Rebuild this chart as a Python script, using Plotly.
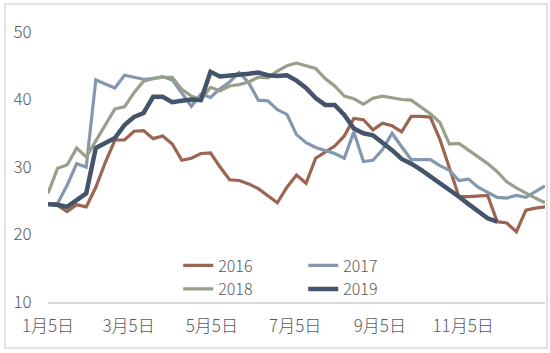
import plotly.graph_objects as go
import pandas as pd

# weekly categories (common calendar year)
dates = pd.date_range("2019-01-05", periods=53, freq="7D").strftime("%Y-%m-%d").tolist()

tick_vals = ["2019-01-05", "2019-03-05", "2019-05-05", "2019-07-05", "2019-09-05", "2019-11-05"]
tick_text = ["1月5日", "3月5日", "5月5日", "7月5日", "9月5日", "11月5日"]

y_2016 = [24.5, 24.3, 23.4, 24.4, 24.1, 27.0, 30.7, 34.0, 34.0, 35.3, 35.4, 34.2, 34.6, 33.4,
          31.0, 31.3, 32.0, 32.1, 30.0, 28.1, 28.0, 27.5, 26.8, 25.7, 24.7, 27.0, 28.8, 27.6,
          31.3, 32.2, 33.1, 34.6, 37.2, 37.0, 35.5, 36.5, 36.1, 35.2, 37.5, 37.5, 37.4, 34.1,
          29.7, 25.6, 25.6, 25.7, 25.8, 21.9, 21.7, 20.4, 23.6, 23.9, 24.1]
y_2017 = [24.5, 24.6, 27.3, 30.5, 30.0, 42.9, 42.3, 41.7, 43.6, 43.3, 43.0, 43.1, 43.4, 42.9,
          41.0, 39.0, 40.8, 40.3, 41.6, 42.6, 44.0, 42.5, 39.9, 39.8, 38.5, 37.8, 34.8, 33.6,
          32.9, 32.4, 32.0, 31.3, 35.2, 30.8, 31.0, 32.6, 35.0, 33.0, 31.1, 31.1, 31.1, 30.2,
          29.5, 28.0, 28.2, 27.0, 26.2, 25.5, 25.4, 25.8, 25.5, 26.3, 27.2]
y_2018 = [26.1, 29.8, 30.3, 32.8, 31.5, 33.8, 36.3, 38.6, 38.9, 41.0, 42.7, 43.1, 43.3, 43.3,
          41.5, 40.5, 40.0, 41.8, 41.3, 42.0, 42.2, 42.6, 43.3, 43.2, 44.2, 45.0, 45.4, 45.0,
          44.6, 43.1, 42.0, 40.5, 40.1, 39.3, 40.2, 40.5, 40.2, 40.0, 39.9, 38.9, 37.9, 36.6,
          33.4, 33.5, 32.5, 31.5, 30.5, 29.3, 27.8, 26.9, 26.1, 25.4, 24.7]
y_2019 = [24.5, 24.4, 24.1, 25.1, 26.1, 32.8, 33.6, 34.3, 36.2, 37.4, 38.0, 40.4, 40.4, 39.6,
          39.8, 40.0, 39.9, 44.1, 43.4, 43.5, 43.6, 43.8, 44.0, 43.6, 43.5, 43.6, 42.8, 41.7,
          40.2, 39.2, 39.2, 37.7, 35.7, 35.0, 34.7, 33.7, 32.5, 31.2, 30.5, 29.6, 28.6, 27.6,
          26.8, 25.6, 24.5, 23.4, 22.4, 21.9]

series = [
    ("2016", y_2016, "#9b6552", 3.2, "legend"),
    ("2017", y_2017, "#8497b0", 3.2, "legend"),
    ("2018", y_2018, "#98a08a", 3.2, "legend2"),
    ("2019", y_2019, "#44546a", 4.5, "legend2"),
]

fig = go.Figure()
for name, ys, color, width, leg in series:
    fig.add_trace(go.Scatter(
        x=dates[:len(ys)], y=ys, name=name, mode="lines",
        line=dict(color=color, width=width), legend=leg,
    ))

font_family = "Noto Sans CJK SC, Noto Sans, sans-serif"
txt_color = "#595959"

leg_common = dict(
    orientation="h", xanchor="left", yanchor="middle",
    font=dict(family=font_family, size=16, color=txt_color, weight=300),
    bgcolor="rgba(0,0,0,0)", entrywidthmode="pixels", entrywidth=80,
    itemwidth=30, tracegroupgap=0,
)

fig.update_layout(
    width=550, height=353,
    margin=dict(l=48, r=5, t=32, b=51),
    paper_bgcolor="white", plot_bgcolor="white",
    showlegend=True,
    legend=dict(x=0.262, y=0.135, **leg_common),
    legend2=dict(x=0.262, y=0.048, **leg_common),
    xaxis=dict(
        type="date",
        range=[dates[0], dates[-1]],
        tickvals=tick_vals, ticktext=tick_text,
        showgrid=False, zeroline=False,
        showline=True, linecolor="#d9d9d9", linewidth=1.5,
        ticks="outside", ticklen=8, tickcolor="rgba(0,0,0,0)",
        tickfont=dict(family=font_family, size=17, color=txt_color, weight=300),
    ),
    yaxis=dict(
        range=[10, 50], tickvals=[10, 20, 30, 40, 50],
        showgrid=False, zeroline=False, showline=False,
        ticks="outside", ticklen=12, tickcolor="rgba(0,0,0,0)",
        tickfont=dict(family=font_family, size=17, color=txt_color, weight=300),
    ),
    shapes=[dict(
        type="rect", xref="paper", yref="paper",
        x0=(5 - 48) / 497, x1=(547 - 48) / 497,
        y0=(302 - 348) / 270, y1=(302 - 4) / 270,
        line=dict(color="#d9d9d9", width=1.5), fillcolor="rgba(0,0,0,0)",
        layer="below",
    )],
)

fig.write_html("out.html")
